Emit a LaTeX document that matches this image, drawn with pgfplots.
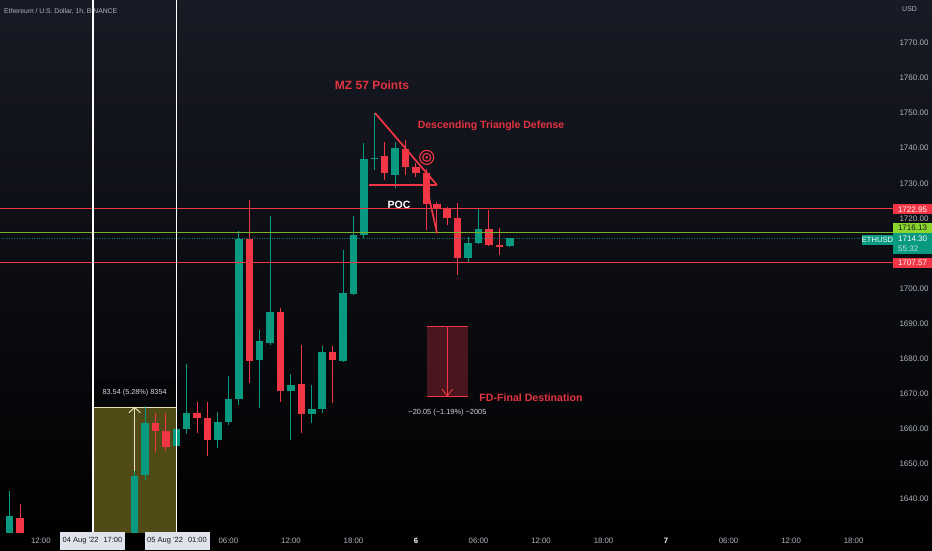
\documentclass[border=0pt]{standalone}
\usepackage{fontspec}
\setmainfont{Liberation Sans}
\usepackage{pgfplots}
\pgfplotsset{compat=1.18}
\usepackage{pgfplotstable}
\definecolor{tvup}{RGB}{8,153,129}
\definecolor{tvdn}{RGB}{242,54,69}
\definecolor{tvtxt}{RGB}{178,181,190}
\definecolor{lighttxt}{RGB}{212,214,220}
\definecolor{anred}{RGB}{226,52,64}
\definecolor{limeln}{RGB}{118,178,42}
\definecolor{limebg}{RGB}{139,214,44}
\definecolor{olivebox}{RGB}{79,74,22}
\definecolor{cream}{RGB}{236,226,192}
\definecolor{fdfill}{RGB}{72,22,28}
\definecolor{bgtop}{RGB}{24,26,37}
\definecolor{bgmid}{RGB}{11,11,14}
\definecolor{darktxt}{RGB}{19,23,34}

% hourly candles, t = hours from 6 Aug 00:00
\pgfplotstableread{
t o h l c
-39 1628.0 1642.3 1626.0 1635.2
-27 1620.0 1648.0 1618.0 1646.7
-26 1646.9 1666.6 1645.5 1661.8
-23 1655.2 1661.0 1654.0 1659.9
-22 1659.9 1678.5 1658.5 1664.4
-19 1656.8 1664.9 1654.5 1662.0
-18 1662.0 1675.1 1661.0 1668.5
-17 1668.5 1716.5 1666.8 1714.0
-15 1679.6 1688.2 1665.9 1685.0
-14 1684.6 1720.7 1683.9 1693.4
-12 1670.8 1675.6 1656.8 1672.5
-10 1664.2 1672.5 1661.6 1665.6
-9 1665.6 1683.6 1664.4 1681.8
-7 1679.4 1711.0 1679.1 1698.6
-6 1698.6 1720.7 1698.2 1715.3
-5 1715.3 1741.4 1714.5 1736.9
-4 1736.9 1750.0 1733.8 1737.3
-2 1732.4 1741.9 1728.6 1740.0
5 1708.6 1714.8 1707.4 1713.1
6 1712.9 1722.9 1712.7 1717.0
9 1712.1 1714.5 1711.8 1714.3
}\upT
\pgfplotstableread{
t o h l c
-38 1634.6 1638.6 1626.0 1628.0
-25 1661.8 1664.5 1653.4 1659.4
-24 1659.4 1664.5 1653.7 1654.9
-21 1664.4 1667.7 1658.7 1663.0
-20 1663.0 1667.7 1652.3 1656.8
-16 1714.0 1725.2 1673.0 1679.4
-13 1693.4 1694.4 1667.7 1670.8
-11 1672.8 1683.9 1658.7 1664.2
-8 1681.8 1683.5 1667.3 1679.6
-3 1737.8 1741.9 1730.9 1733.0
-1 1739.7 1742.5 1732.4 1734.7
0 1734.7 1735.7 1731.9 1732.9
1 1732.9 1734.0 1716.7 1724.0
2 1724.0 1724.8 1716.6 1723.0
3 1722.9 1723.3 1718.1 1720.2
4 1720.2 1724.5 1703.9 1708.6
7 1717.0 1722.4 1712.1 1712.4
8 1712.4 1717.2 1709.6 1711.8
}\dnT

\begin{document}
\begin{tikzpicture}
\useasboundingbox (0,0) rectangle (932pt,550pt);
\shade[top color=bgtop, middle color=bgmid, bottom color=black] (0,0) rectangle (932pt,550pt);
\node[anchor=west, inner sep=0, text=tvtxt, font=\fontsize{6.8}{8}\selectfont] at (4pt,539pt) {Ethereum / U.S. Dollar, 1h, BINANCE};
\node[anchor=west, inner sep=0, text=tvtxt, font=\fontsize{7}{8}\selectfont] at (902pt,541pt) {USD};
\begin{axis}[
  at={(0pt,18pt)}, anchor=south west, scale only axis,
  width=893pt, height=532pt,
  xmin=-39.92, xmax=45.78, ymin=1630.6, ymax=1782.26,
  axis line style={draw=none}, tick style={draw=none}, major tick length=0pt,
  clip mode=individual,
  ytick={1640,1650,1660,1670,1680,1690,1700,1720,1730,1740,1750,1760,1770},
  yticklabel pos=right,
  yticklabel style={anchor=west, xshift=3pt, text=tvtxt, font=\fontsize{8}{9}\selectfont,
    /pgf/number format/fixed, /pgf/number format/fixed zerofill,
    /pgf/number format/precision=2, /pgf/number format/1000 sep={},
    /pgf/number format/assume math mode=true},
  xtick={-36,-18,-12,-6,0,6,12,18,24,30,36,42},
  xticklabels={12:00,06:00,12:00,18:00,{\color{white}\bfseries 6},06:00,12:00,18:00,{\color{white}\bfseries 7},06:00,12:00,18:00},
  xticklabel style={anchor=center, yshift=-9pt, text=tvtxt, font=\fontsize{7.8}{9}\selectfont},
]
% measure box (olive)
\addplot[fill=olivebox, draw=none, forget plot] coordinates {(-31,1600) (-23,1600) (-23,1666.2) (-31,1666.2)} -- cycle;
\addplot[fill={rgb,255:red,6;green,6;blue,8}, draw=none, forget plot] coordinates {(-31,1666.2) (-23,1666.2) (-23,1673.9) (-31,1673.9)} -- cycle;
\addplot[cream, line width=1pt, forget plot] coordinates {(-31,1666.2) (-23,1666.2)};
\addplot[cream, line width=1pt, forget plot] coordinates {(-27,1600) (-27,1666.0)};
\addplot[cream, line width=1pt, forget plot] coordinates {(-27.55,1664.6) (-27,1666.1) (-26.45,1664.6)};
% FD box
\addplot[fill=fdfill, draw=none, forget plot] coordinates {(1.05,1669.2) (4.95,1669.2) (4.95,1689.25) (1.05,1689.25)} -- cycle;
\addplot[tvdn, line width=1.4pt, forget plot] coordinates {(1.05,1689.25) (4.95,1689.25)};
\addplot[tvdn, line width=1.4pt, forget plot] coordinates {(1.05,1669.2) (4.95,1669.2)};
\addplot[tvdn, line width=0.9pt, forget plot] coordinates {(3,1689.2) (3,1669.4)};
\addplot[tvdn, line width=0.9pt, forget plot] coordinates {(2.5,1671.3) (3,1669.4) (3.5,1671.3)};
% candles: wicks
\addplot[draw=none, mark=none, forget plot, error bars/.cd, y dir=both, y explicit, error mark=none,
  error bar style={draw=tvup, line width=1pt}]
  table[x=t, y expr={(\thisrow{h}+\thisrow{l})/2}, y error expr={(\thisrow{h}-\thisrow{l})/2}] {\upT};
\addplot[draw=none, mark=none, forget plot, error bars/.cd, y dir=both, y explicit, error mark=none,
  error bar style={draw=tvdn, line width=1pt}]
  table[x=t, y expr={(\thisrow{h}+\thisrow{l})/2}, y error expr={(\thisrow{h}-\thisrow{l})/2}] {\dnT};
% candles: bodies
\addplot[draw=none, mark=none, forget plot, error bars/.cd, y dir=both, y explicit, error mark=none,
  error bar style={draw=tvup, line width=7.5pt}]
  table[x=t, y expr={(\thisrow{o}+\thisrow{c})/2}, y error expr={max(abs(\thisrow{c}-\thisrow{o})/2,0.15)}] {\upT};
\addplot[draw=none, mark=none, forget plot, error bars/.cd, y dir=both, y explicit, error mark=none,
  error bar style={draw=tvdn, line width=7.5pt}]
  table[x=t, y expr={(\thisrow{o}+\thisrow{c})/2}, y error expr={max(abs(\thisrow{o}-\thisrow{c})/2,0.15)}] {\dnT};
% horizontal levels
\addplot[tvdn, line width=0.8pt, forget plot] coordinates {(-40,1722.95) (45.78,1722.95)};
\addplot[tvdn, line width=0.8pt, forget plot] coordinates {(-40,1707.57) (45.78,1707.57)};
\addplot[limeln, line width=0.9pt, forget plot] coordinates {(-40,1716.13) (45.78,1716.13)};
\addplot[tvup, line width=0.5pt, dotted, opacity=0.8, forget plot] coordinates {(-40,1714.30) (45.78,1714.30)};
% vertical white lines
\addplot[white, line width=1.6pt, forget plot] coordinates {(-31,1600) (-31,1790)};
\addplot[white, line width=1.6pt, forget plot] coordinates {(-23,1600) (-23,1790)};
% triangle trendlines
\addplot[tvdn, line width=1.7pt, forget plot] coordinates {(-3.93,1750.05) (2.02,1729.5)};
\addplot[tvdn, line width=1.7pt, forget plot] coordinates {(-4.51,1729.5) (2.02,1729.5)};
\addplot[tvdn, line width=1.7pt, forget plot] coordinates {(0.77,1732.4) (2.02,1715.8)};
% target icon
\node[circle, draw=tvdn, line width=1.1pt, minimum size=14pt, inner sep=0] at (axis cs:1.03,1737.4) {};
\node[circle, draw=tvdn, line width=1.1pt, minimum size=8pt, inner sep=0] at (axis cs:1.03,1737.4) {};
\node[circle, fill=tvdn, minimum size=3pt, inner sep=0] at (axis cs:1.03,1737.4) {};
% texts
\node[text=anred, font=\bfseries\fontsize{12}{14}\selectfont] at (axis cs:-4.22,1758.0) {MZ 57 Points};
\node[text=anred, font=\bfseries\fontsize{10.5}{12}\selectfont] at (axis cs:7.2,1746.3) {Descending Triangle Defense};
\node[text=white, font=\bfseries\fontsize{10.5}{12}\selectfont] at (axis cs:-1.63,1723.8) {POC};
\node[text=anred, font=\bfseries\fontsize{10.6}{12}\selectfont] at (axis cs:11.04,1668.8) {FD-Final Destination};
\node[text=lighttxt, font=\fontsize{7.4}{9}\selectfont] at (axis cs:3.02,1664.6) {−20.05 (−1.19\%) −2005};
\node[text=lighttxt, font=\fontsize{7.3}{9}\selectfont] at (axis cs:-27,1670.2) {83.54 (5.28\%) 8354};
\end{axis}
% right price labels
\tikzset{plab/.style={anchor=center, inner sep=0, minimum width=39pt, minimum height=10pt, font=\fontsize{8}{9}\selectfont}}
\node[plab, fill=tvdn, text=white] at (912.5pt,340.7pt) {1722.95};
\node[plab, fill=limebg, text=darktxt] at (912.5pt,322.3pt) {1716.13};
\fill[tvup] (893pt,296pt) rectangle (932pt,317.3pt);
\node[anchor=west, inner sep=0, text=white, font=\fontsize{8}{9}\selectfont] at (898pt,311.5pt) {1714.30};
\node[anchor=west, inner sep=0, text={rgb,255:red,190;green,230;blue,222}, font=\fontsize{8}{9}\selectfont] at (898pt,301.3pt) {55:32};
\node[anchor=center, inner sep=0, minimum width=29pt, minimum height=10pt, fill=tvup, text=white, font=\fontsize{7.6}{8}\selectfont] at (877.5pt,310pt) {ETHUSD};
\node[plab, fill=tvdn, text=white] at (912.5pt,287.5pt) {1707.57};
% bottom date boxes
\node[anchor=center, inner sep=0, minimum width=65pt, minimum height=18pt, fill={rgb,255:red,224;green,227;blue,235}, text=darktxt, font=\fontsize{7.5}{9}\selectfont] at (92.5pt,9pt) {04 Aug '22\hspace{5pt}17:00};
\node[anchor=center, inner sep=0, minimum width=65pt, minimum height=18pt, fill={rgb,255:red,224;green,227;blue,235}, text=darktxt, font=\fontsize{7.5}{9}\selectfont] at (177pt,9pt) {05 Aug '22\hspace{5pt}01:00};
\end{tikzpicture}
\end{document}
